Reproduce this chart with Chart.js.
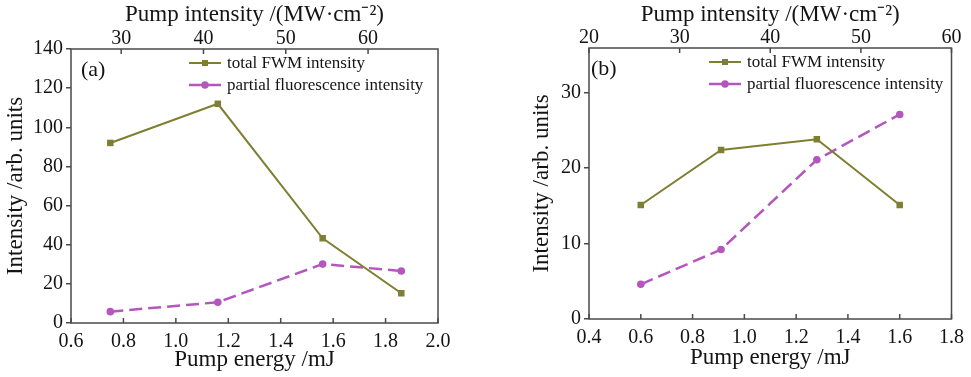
<!DOCTYPE html>
<html>
<head>
<meta charset="utf-8">
<script src="https://cdn.jsdelivr.net/npm/chart.js@4.4.0/dist/chart.umd.min.js"></script>
<style>
  html, body { margin: 0; padding: 0; background: #fff; }
  #wrap { position: relative; width: 971px; height: 377px; }
  #panelA { position: absolute; left: 0; top: 0; }
  #panelB { position: absolute; left: 485px; top: 0; }
</style>
</head>
<body>
<div id="wrap">
  <canvas id="panelA" width="485" height="377"></canvas>
  <canvas id="panelB" width="486" height="377"></canvas>
</div>
<script>
// Data
const seriesNames = ['total FWM intensity', 'partial fluorescence intensity'];

// panel (a)
const energyA = [0.75, 1.16, 1.56, 1.86];
const fwmA = [92, 112, 43.3, 15.2];
const fluoA = [5.8, 10.6, 30.1, 26.6];
const energyTicksA = [0.6, 0.8, 1.0, 1.2, 1.4, 1.6, 1.8, 2.0];
const pumpTicksA = [30, 40, 50, 60];
const yTicksA = [0, 20, 40, 60, 80, 100, 120, 140];

// panel (b)
const energyB = [0.6, 0.91, 1.28, 1.6];
const fwmB = [15.1, 22.4, 23.8, 15.1];
const fluoB = [4.6, 9.2, 21.1, 27.1];
const energyTicksB = [0.4, 0.6, 0.8, 1.0, 1.2, 1.4, 1.6, 1.8];
const pumpTicksB = [20, 30, 40, 50, 60];
const yTicksB = [0, 10, 20, 30];

const olive = '#7f7f33';
const magenta = '#b457bd';
const axisColor = '#4a4a4a';
const textColor = '#141414';
const serif = '"Liberation Serif", "Times New Roman", serif';

// frame, inward ticks on the x axes, panel label and the legend
const framePlugin = {
  id: 'frame',
  afterDraw(chart, args, opts) {
    const ctx = chart.ctx;
    const a = chart.chartArea;
    ctx.save();
    ctx.strokeStyle = axisColor;
    ctx.lineWidth = 1.5;
    ctx.strokeRect(a.left, a.top, a.width, a.height);

    // inward ticks
    const xs = chart.scales.x;
    xs.ticks.forEach(t => {
      const px = xs.getPixelForValue(t.value);
      ctx.beginPath(); ctx.moveTo(px, a.bottom); ctx.lineTo(px, a.bottom - 5); ctx.stroke();
    });
    const x2 = chart.scales.x2;
    x2.ticks.forEach(t => {
      const px = x2.getPixelForValue(t.value);
      ctx.beginPath(); ctx.moveTo(px, a.top); ctx.lineTo(px, a.top + 5); ctx.stroke();
    });

    // panel label
    ctx.fillStyle = textColor;
    ctx.font = '22px ' + serif;
    ctx.textBaseline = 'middle';
    ctx.fillText(opts.label, a.left + opts.labelX, a.top + opts.labelY);

    // legend
    ctx.font = '17px ' + serif;
    chart.data.datasets.forEach((ds, i) => {
      const y = a.top + 14 + i * 22;
      const x0 = a.left + opts.legendX;
      ctx.strokeStyle = ds.borderColor;
      ctx.lineWidth = ds.borderWidth;
      ctx.setLineDash(ds.borderDash || []);
      ctx.beginPath(); ctx.moveTo(x0, y); ctx.lineTo(x0 + 32, y); ctx.stroke();
      ctx.setLineDash([]);
      ctx.fillStyle = ds.borderColor;
      if (ds.pointStyle === 'rect') {
        ctx.fillRect(x0 + 16 - 3, y - 3, 6, 6);
      } else {
        ctx.beginPath(); ctx.arc(x0 + 16, y, 3.7, 0, Math.PI * 2); ctx.fill();
      }
      ctx.fillStyle = textColor;
      ctx.fillText(ds.label, x0 + 38, y + 1);
    });
    ctx.restore();
  }
};

function makePanel(id, energy, fwm, fluo, xTicks, pumpTicks, yTicks, opt) {
  const pts = (xv, yv) => xv.map((v, i) => ({ x: v, y: yv[i] }));
  const tickFont = { family: serif, size: 20 };
  const titleFont = { family: serif, size: 23 };
  return new Chart(document.getElementById(id).getContext('2d'), {
    type: 'line',
    data: {
      datasets: [{
        label: seriesNames[0],
        data: pts(energy, fwm),
        borderColor: olive,
        backgroundColor: olive,
        borderWidth: 2,
        pointStyle: 'rect',
        pointRadius: 4.6,
        pointBorderWidth: 0,
        tension: 0
      }, {
        label: seriesNames[1],
        data: pts(energy, fluo),
        borderColor: magenta,
        backgroundColor: magenta,
        borderWidth: 2.5,
        borderDash: [13, 6],
        pointStyle: 'circle',
        pointRadius: 3.8,
        pointBorderWidth: 0,
        tension: 0
      }]
    },
    options: {
      responsive: false,
      animation: false,
      devicePixelRatio: 1,
      layout: { padding: { left: opt.padLeft, right: opt.padRight, top: 0, bottom: 0 } },
      plugins: {
        legend: { display: false },
        tooltip: { enabled: false },
        frame: { label: opt.label, labelX: opt.labelX, labelY: 21, legendX: opt.legendX }
      },
      scales: {
        x: {
          type: 'linear',
          position: 'bottom',
          min: xTicks[0],
          max: xTicks[xTicks.length - 1],
          afterBuildTicks: s => { s.ticks = xTicks.map(v => ({ value: v })); },
          afterFit: s => { s.height = opt.bottomH; },
          grid: { display: false, drawTicks: false },
          border: { display: false },
          ticks: { font: tickFont, color: textColor, padding: 7, maxRotation: 0,
                   callback: v => v.toFixed(1) },
          title: { display: true, text: 'Pump energy /mJ', font: titleFont, color: textColor,
                   padding: { top: 0, bottom: opt.bottomTitlePad } }
        },
        x2: {
          type: 'linear',
          position: 'top',
          min: opt.pumpMin,
          max: opt.pumpMax,
          afterBuildTicks: s => { s.ticks = pumpTicks.map(v => ({ value: v })); },
          afterFit: s => { s.height = opt.topH; },
          grid: { display: false, drawTicks: false },
          border: { display: false },
          ticks: { font: tickFont, color: textColor, padding: -2, maxRotation: 0 },
          title: { display: true, text: 'Pump intensity /(MW\u00b7cm\u207b\u00b2)', font: titleFont,
                   color: textColor, padding: { top: 1, bottom: 0 } }
        },
        y: {
          type: 'linear',
          min: 0,
          max: opt.yMax,
          afterBuildTicks: s => { s.ticks = yTicks.map(v => ({ value: v })); },
          afterFit: s => { s.width = opt.leftW; },
          grid: { drawOnChartArea: false, drawTicks: true, tickLength: 5, color: axisColor, lineWidth: 1.5 },
          border: { display: false },
          ticks: { font: tickFont, color: textColor, padding: 3 },
          title: { display: true, text: 'Intensity /arb. units', font: titleFont, color: textColor,
                   padding: { top: 2, bottom: 0 } }
        }
      }
    },
    plugins: [framePlugin]
  });
}

makePanel('panelA', energyA, fwmA, fluoA, energyTicksA, pumpTicksA, yTicksA, {
  label: '(a)', labelX: 10, legendX: 118,
  pumpMin: 23.9, pumpMax: 68.5, yMax: 140,
  padLeft: 0, leftW: 71, topH: 49, bottomH: 54, padRight: 47, bottomTitlePad: 3
});

makePanel('panelB', energyB, fwmB, fluoB, energyTicksB, pumpTicksB, yTicksB, {
  label: '(b)', labelX: 2, legendX: 120,
  pumpMin: 20, pumpMax: 60, yMax: 35.9,
  padLeft: 41, leftW: 63, topH: 48, bottomH: 58, padRight: 18, bottomTitlePad: 5
});
</script>
</body>
</html>
